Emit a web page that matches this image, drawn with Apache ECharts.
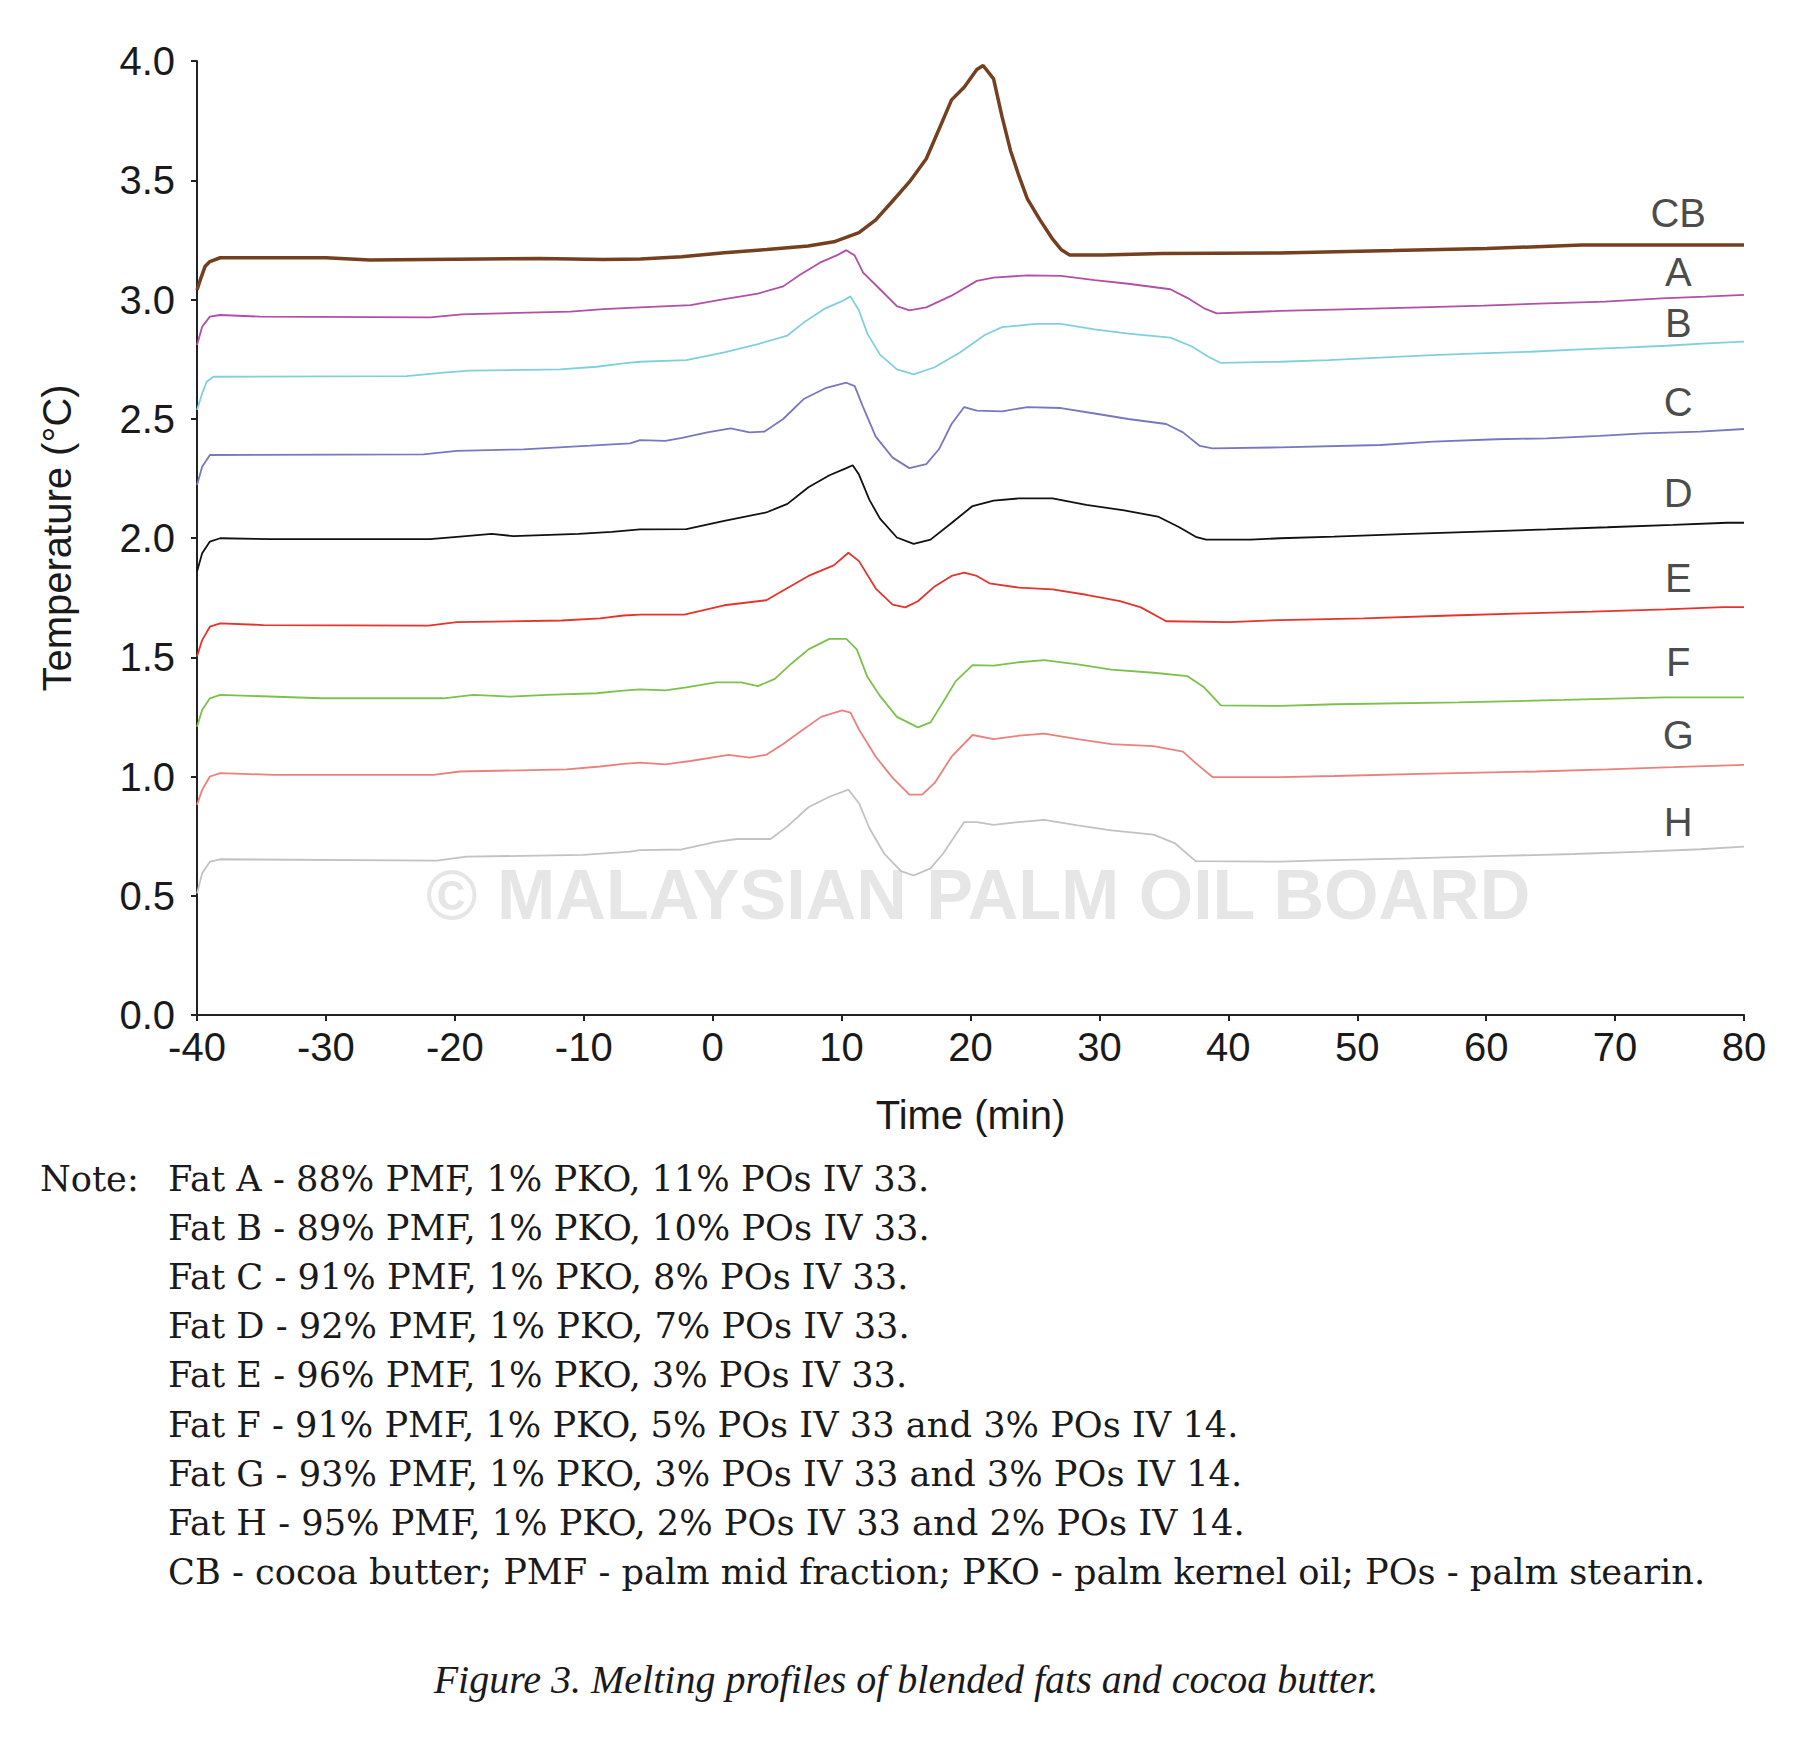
<!DOCTYPE html>
<html>
<head>
<meta charset="utf-8">
<title>Melting profiles of blended fats and cocoa butter</title>
<script src="https://cdn.jsdelivr.net/npm/echarts@6/dist/echarts.min.js"></script>
<style>
  html, body { margin: 0; padding: 0; background: #fff; }
  #main { width: 1816px; height: 1744px; }
</style>
</head>
<body>
<div id="main"></div>
<script>
// values: [time (min), temperature (°C)]
const curveCB = [[-40, 3.04], [-39.76, 3.08], [-39.38, 3.138], [-39.0, 3.159], [-38.2, 3.175], [-30, 3.175], [-26.6, 3.166], [-13.4, 3.172], [-8.5, 3.168], [-5.6, 3.17], [-2.4, 3.179], [0.9, 3.196], [4.2, 3.21], [7.4, 3.224], [9.4, 3.242], [11.35, 3.28], [12.65, 3.334], [13.96, 3.413], [15.26, 3.493], [16.57, 3.59], [17.55, 3.713], [18.53, 3.837], [19.51, 3.89], [20.49, 3.964], [20.98, 3.981], [21.79, 3.925], [22.45, 3.766], [23.1, 3.625], [23.75, 3.519], [24.41, 3.422], [25.39, 3.334], [26.36, 3.254], [27.02, 3.21], [27.67, 3.187], [30.3, 3.187], [34.85, 3.193], [44.0, 3.195], [52.8, 3.205], [60.05, 3.214], [67.4, 3.228], [80, 3.228]];
const curveA = [[-40, 2.809], [-39.6, 2.886], [-39.0, 2.928], [-38.2, 2.935], [-35.1, 2.928], [-21.9, 2.925], [-19.46, 2.938], [-11.06, 2.949], [-8.47, 2.96], [-5.63, 2.967], [-1.71, 2.976], [0.9, 3.002], [3.51, 3.025], [5.47, 3.055], [6.78, 3.104], [8.41, 3.157], [9.71, 3.187], [10.37, 3.207], [11.02, 3.184], [11.67, 3.113], [12.98, 3.043], [14.29, 2.972], [15.26, 2.954], [16.57, 2.967], [18.53, 3.016], [20.49, 3.078], [21.79, 3.092], [24.41, 3.101], [27.02, 3.099], [29.63, 3.081], [32.24, 3.066], [35.5, 3.043], [36.81, 3.007], [38.12, 2.963], [39.1, 2.942], [44.02, 2.952], [48.9, 2.959], [54.9, 2.967], [59.8, 2.974], [64.7, 2.984], [69.2, 2.991], [73.6, 3.005], [77.0, 3.012], [80, 3.019]];
const curveB = [[-40, 2.537], [-39.6, 2.606], [-39.25, 2.655], [-38.73, 2.676], [-23.73, 2.679], [-20.9, 2.693], [-18.82, 2.702], [-11.84, 2.707], [-8.99, 2.718], [-6.92, 2.732], [-5.63, 2.739], [-2.04, 2.746], [0.9, 2.778], [3.51, 2.813], [5.8, 2.849], [7.1, 2.905], [8.74, 2.963], [10.04, 2.993], [10.69, 3.013], [11.35, 2.954], [12.0, 2.857], [12.98, 2.769], [14.29, 2.707], [15.59, 2.686], [17.22, 2.716], [19.18, 2.778], [21.14, 2.852], [22.45, 2.884], [25.06, 2.898], [27.02, 2.898], [29.63, 2.875], [32.24, 2.857], [35.5, 2.84], [37.14, 2.804], [38.45, 2.76], [39.42, 2.734], [44.02, 2.739], [47.77, 2.746], [51.78, 2.756], [55.8, 2.767], [59.5, 2.774], [63.4, 2.781], [67.3, 2.791], [70.7, 2.798], [74.0, 2.806], [77.1, 2.816], [80, 2.823]];
const curveC = [[-40, 2.222], [-39.6, 2.299], [-39.0, 2.348], [-22.44, 2.351], [-19.85, 2.365], [-14.68, 2.372], [-9.51, 2.387], [-6.4, 2.397], [-5.63, 2.41], [-3.67, 2.407], [-2.37, 2.42], [-0.41, 2.443], [1.39, 2.46], [2.86, 2.443], [4.0, 2.446], [5.47, 2.499], [7.1, 2.584], [8.74, 2.628], [10.37, 2.651], [11.02, 2.637], [11.67, 2.549], [12.65, 2.425], [13.96, 2.337], [15.26, 2.293], [16.57, 2.31], [17.55, 2.372], [18.53, 2.478], [19.51, 2.549], [20.49, 2.534], [22.45, 2.531], [24.41, 2.549], [27.02, 2.545], [29.63, 2.522], [32.24, 2.499], [35.18, 2.478], [36.48, 2.443], [37.79, 2.386], [38.77, 2.376], [44.02, 2.38], [51.78, 2.39], [55.9, 2.404], [60.8, 2.414], [64.7, 2.418], [68.8, 2.428], [72.2, 2.439], [76.6, 2.446], [80, 2.457]];
const curveD = [[-40, 1.859], [-39.6, 1.936], [-39.0, 1.985], [-38.2, 1.999], [-34.33, 1.995], [-21.92, 1.995], [-19.6, 2.006], [-17.14, 2.017], [-15.46, 2.008], [-10.41, 2.017], [-7.83, 2.026], [-5.63, 2.036], [-2.04, 2.037], [0.9, 2.072], [4.16, 2.107], [5.8, 2.143], [7.43, 2.213], [9.06, 2.263], [10.37, 2.293], [10.86, 2.305], [11.35, 2.266], [12.16, 2.16], [12.98, 2.081], [14.29, 2.002], [15.59, 1.975], [16.9, 1.993], [18.53, 2.063], [20.16, 2.134], [21.79, 2.157], [23.75, 2.166], [26.36, 2.166], [28.98, 2.139], [31.92, 2.116], [34.53, 2.09], [36.16, 2.046], [37.47, 2.005], [38.28, 1.993], [41.71, 1.993], [44.02, 1.999], [48.2, 2.006], [54.1, 2.017], [59.5, 2.027], [64.7, 2.036], [69.4, 2.045], [74.5, 2.055], [78.7, 2.064], [80, 2.064]];
const curveE = [[-40, 1.503], [-39.6, 1.572], [-39.0, 1.628], [-38.2, 1.642], [-34.85, 1.635], [-22.05, 1.633], [-19.85, 1.647], [-11.71, 1.654], [-8.73, 1.663], [-6.92, 1.675], [-5.63, 1.679], [-2.2, 1.679], [0.9, 1.718], [4.16, 1.739], [5.47, 1.78], [7.43, 1.841], [9.39, 1.885], [10.53, 1.938], [11.35, 1.903], [12.65, 1.788], [13.96, 1.721], [14.94, 1.709], [15.92, 1.735], [17.22, 1.797], [18.53, 1.841], [19.51, 1.855], [20.49, 1.841], [21.47, 1.81], [23.75, 1.792], [26.36, 1.785], [28.98, 1.762], [31.59, 1.735], [33.22, 1.709], [35.18, 1.651], [40.08, 1.647], [44.02, 1.656], [50.5, 1.663], [57.3, 1.675], [62.9, 1.684], [68.2, 1.691], [73.9, 1.701], [78.4, 1.71], [80, 1.71]];
const curveF = [[-40, 1.209], [-39.6, 1.279], [-39.0, 1.328], [-38.2, 1.342], [-35.9, 1.338], [-30.3, 1.328], [-20.9, 1.328], [-18.56, 1.342], [-15.7, 1.335], [-12.87, 1.342], [-8.99, 1.349], [-7.18, 1.359], [-5.63, 1.365], [-3.67, 1.361], [-2.04, 1.374], [0.25, 1.395], [2.2, 1.395], [3.51, 1.379], [4.82, 1.409], [6.12, 1.474], [7.43, 1.533], [9.06, 1.577], [10.37, 1.577], [11.18, 1.533], [12.0, 1.418], [12.98, 1.338], [14.29, 1.25], [15.92, 1.206], [16.9, 1.227], [17.88, 1.312], [18.86, 1.4], [20.16, 1.467], [21.79, 1.465], [23.75, 1.479], [25.71, 1.488], [28.32, 1.47], [30.93, 1.448], [34.2, 1.435], [36.81, 1.421], [38.12, 1.374], [39.42, 1.298], [44.02, 1.296], [48.3, 1.303], [57.85, 1.311], [66.0, 1.321], [73.9, 1.332], [80, 1.332]];
const curveG = [[-40, 0.881], [-39.6, 0.944], [-39.0, 1.0], [-38.2, 1.014], [-34.07, 1.007], [-21.66, 1.007], [-19.6, 1.021], [-11.32, 1.03], [-8.73, 1.042], [-6.92, 1.053], [-5.63, 1.058], [-3.67, 1.051], [-1.71, 1.065], [1.23, 1.091], [2.86, 1.079], [4.16, 1.091], [5.47, 1.136], [6.78, 1.188], [8.41, 1.25], [10.04, 1.277], [10.69, 1.268], [11.35, 1.197], [12.65, 1.083], [13.96, 0.994], [15.26, 0.924], [16.25, 0.924], [17.22, 0.973], [18.53, 1.083], [20.16, 1.174], [21.79, 1.157], [23.75, 1.171], [25.71, 1.18], [28.32, 1.157], [30.93, 1.136], [34.2, 1.127], [36.48, 1.104], [37.47, 1.056], [38.77, 0.998], [44.02, 0.997], [48.2, 1.002], [54.9, 1.011], [63.9, 1.021], [69.4, 1.03], [74.5, 1.039], [78.2, 1.046], [80, 1.049]];
const curveH = [[-40, 0.51], [-39.6, 0.594], [-39.0, 0.643], [-38.2, 0.653], [-21.4, 0.647], [-19.08, 0.664], [-10.03, 0.671], [-6.4, 0.685], [-5.63, 0.691], [-2.4, 0.694], [0.25, 0.726], [1.88, 0.738], [4.49, 0.738], [5.8, 0.791], [7.43, 0.871], [9.06, 0.915], [10.53, 0.945], [11.35, 0.888], [12.16, 0.783], [13.3, 0.677], [14.61, 0.603], [15.59, 0.585], [16.9, 0.615], [17.88, 0.677], [19.51, 0.809], [20.49, 0.809], [21.79, 0.797], [23.75, 0.809], [25.71, 0.818], [28.32, 0.795], [30.93, 0.774], [34.2, 0.756], [35.83, 0.721], [37.47, 0.645], [44.02, 0.643], [46.6, 0.647], [54.1, 0.657], [61.0, 0.667], [66.8, 0.675], [72.2, 0.685], [76.6, 0.695], [80, 0.706]];

const seriesNames = ['CB', 'A', 'B', 'C', 'D', 'E', 'F', 'G', 'H'];
const seriesColors = ['#74401f', '#b24fa6', '#80d0dc', '#7778c0', '#111111', '#e6332c', '#7cc14c', '#eb807c', '#c2c2c2'];
// where the letters sit next to the curves
const labelTime = [74.9, 74.9, 74.9, 74.9, 74.9, 74.9, 74.9, 74.9, 74.9];
const labelTemp = [3.361, 3.117, 2.90, 2.572, 2.187, 1.831, 1.482, 1.174, 0.811];

const noteLines = [
    'Fat A - 88% PMF, 1% PKO, 11% POs IV 33.',
    'Fat B - 89% PMF, 1% PKO, 10% POs IV 33.',
    'Fat C - 91% PMF, 1% PKO, 8% POs IV 33.',
    'Fat D - 92% PMF, 1% PKO, 7% POs IV 33.',
    'Fat E - 96% PMF, 1% PKO, 3% POs IV 33.',
    'Fat F - 91% PMF, 1% PKO, 5% POs IV 33 and 3% POs IV 14.',
    'Fat G - 93% PMF, 1% PKO, 3% POs IV 33 and 3% POs IV 14.',
    'Fat H - 95% PMF, 1% PKO, 2% POs IV 33 and 2% POs IV 14.',
    'CB - cocoa butter; PMF - palm mid fraction; PKO - palm kernel oil; POs - palm stearin.'
];
const caption = 'Figure 3. Melting profiles of blended fats and cocoa butter.';

(function() {
    const chart = echarts.init(document.getElementById('main'), null, {renderer: 'svg'});
    const sans = '"Liberation Sans", Arial, sans-serif';
    const serif = '"DejaVu Serif", "Liberation Serif", serif';
    const curves = [curveCB, curveA, curveB, curveC, curveD, curveE, curveF, curveG, curveH];

    let series = curves.map(function(c, i) {
        return {
            name: seriesNames[i],
            type: 'line',
            data: c,
            symbol: 'none',
            silent: true,
            z: 3,
            lineStyle: {color: seriesColors[i], width: i === 0 ? 3.5 : 1.8}
        };
    });
    series.push({
        type: 'scatter',
        symbolSize: 0,
        silent: true,
        data: seriesNames.map(function(n, i) { return {name: n, value: [labelTime[i], labelTemp[i]]}; }),
        label: {
            show: true, position: 'inside', formatter: '{b}',
            fontSize: 40, fontFamily: sans, color: '#1a1a1a'
        }
    });

    let graphic = [{
        type: 'text', z: 0, silent: true,
        style: {
            text: '\u00A9 MALAYSIAN PALM OIL BOARD', x: 426, y: 895,
            verticalAlign: 'middle', fill: '#e6e6e6',
            font: 'bold 70px "Liberation Sans", Arial, sans-serif'
        }
    }, {
        type: 'text',
        style: {text: 'Note:', x: 40, y: 1196, verticalAlign: 'bottom', fill: '#1a1a1a', font: '35.2px ' + serif}
    }];
    noteLines.forEach(function(line, i) {
        graphic.push({
            type: 'text',
            style: {text: line, x: 168, y: 1196 + i * 49.1, verticalAlign: 'bottom', fill: '#1a1a1a', font: '35.2px ' + serif}
        });
    });
    graphic.push({
        type: 'text',
        style: {text: caption, x: 906, y: 1699, align: 'center', verticalAlign: 'bottom', fill: '#1a1a1a',
            font: 'italic 40px "Liberation Serif", "DejaVu Serif", serif'}
    });

    chart.setOption({
        animation: false,
        backgroundColor: '#ffffff',
        grid: {left: 197, right: 72, top: 61, bottom: 729, containLabel: false},
        xAxis: {
            type: 'value', min: -40, max: 80, interval: 10,
            name: 'Time (min)', nameLocation: 'middle', nameGap: 80,
            nameTextStyle: {fontSize: 40, fontFamily: sans, color: '#1a1a1a'},
            axisLine: {onZero: false, lineStyle: {color: '#222', width: 2}},
            axisTick: {length: 6, lineStyle: {color: '#222', width: 2}},
            axisLabel: {fontSize: 40, fontFamily: sans, color: '#1a1a1a', margin: 12},
            splitLine: {show: false}
        },
        yAxis: {
            type: 'value', min: 0, max: 4, interval: 0.5,
            name: 'Temperature (\u00B0C)', nameLocation: 'middle', nameGap: 120,
            nameTextStyle: {fontSize: 40, fontFamily: sans, color: '#1a1a1a'},
            axisLine: {show: true, onZero: false, lineStyle: {color: '#222', width: 2}},
            axisTick: {show: true, length: 6, lineStyle: {color: '#222', width: 2}},
            axisLabel: {fontSize: 40, fontFamily: sans, color: '#1a1a1a', margin: 22,
                formatter: function(v) { return v.toFixed(1); }},
            splitLine: {show: false}
        },
        graphic: graphic,
        series: series
    });
})();
</script>
</body>
</html>
